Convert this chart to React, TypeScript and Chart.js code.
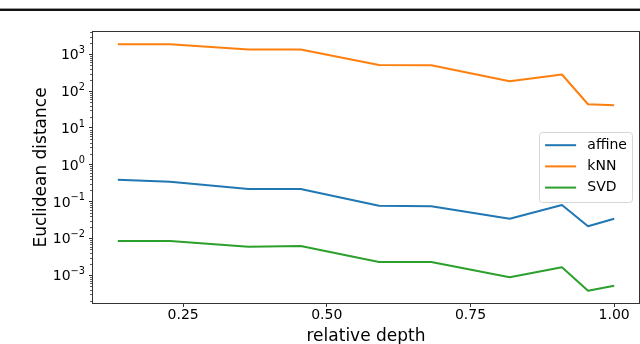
import React, { useEffect, useRef } from "react";
import { Chart, registerables } from "chart.js";

Chart.register(...registerables);

// ---- data ----
const relativeDepth = [0.1364, 0.2273, 0.3636, 0.4545, 0.5909, 0.6818, 0.8182, 0.9091, 0.9545, 1.0];
const affine = [0.391, 0.345, 0.219, 0.219, 0.0771, 0.0742, 0.0342, 0.0805, 0.0213, 0.0342];
const kNN = [1866, 1866, 1341, 1341, 513, 503, 185, 282, 44, 41];
const SVD = [0.00851, 0.00851, 0.00596, 0.00622, 0.00229, 0.00229, 0.00088, 0.00164, 0.00038, 0.00052];
const seriesLabels = ["affine", "kNN", "SVD"];
const seriesColors = ["#1f77b4", "#ff7f0e", "#2ca02c"];
const xTicks = [0.25, 0.5, 0.75, 1.0];
const yTickExponents = [-3, -2, -1, 0, 1, 2, 3];
const xTitle = "relative depth";
const yTitle = "Euclidean distance";

const FONT = "'DejaVu Sans', sans-serif";
const expText = (e: number) => (e < 0 ? "\u2212" + String(-e) : String(e));

export default function App() {
  const canvasRef = useRef<HTMLCanvasElement | null>(null);

  useEffect(() => {
    const canvas = canvasRef.current;
    if (!canvas) return;
    const series = [affine, kNN, SVD];

    // matplotlib-like 5% margins
    const xLo = Math.min(...relativeDepth);
    const xHi = Math.max(...relativeDepth);
    const xPad = (xHi - xLo) * 0.05;
    const logs = series.flat().map((v) => Math.log10(v));
    const lLo = Math.min(...logs);
    const lHi = Math.max(...logs);
    const lPad = (lHi - lLo) * 0.05;
    const yMin = Math.pow(10, lLo - lPad);
    const yMax = Math.pow(10, lHi + lPad);

    const framePlugin = {
      id: "frameAndLegend",
      afterDraw(chart: any) {
        const ctx = chart.ctx;
        const { left, right, top, bottom } = chart.chartArea;
        const ys = chart.scales.y;
        ctx.save();
        // minor log ticks
        ctx.strokeStyle = "#333";
        ctx.lineWidth = 0.8;
        for (let n = Math.floor(lLo - lPad); n <= Math.ceil(lHi + lPad); n++) {
          for (let k = 2; k <= 9; k++) {
            const v = k * Math.pow(10, n);
            if (v < yMin || v > yMax) continue;
            const py = Math.round(ys.getPixelForValue(v)) + 0.5;
            ctx.beginPath();
            ctx.moveTo(left - 3, py);
            ctx.lineTo(left, py);
            ctx.stroke();
          }
        }
        // y tick labels, mathtext-like 10^e
        ctx.fillStyle = "#000";
        ctx.textAlign = "left";
        ctx.textBaseline = "alphabetic";
        yTickExponents.forEach((e) => {
          const py = ys.getPixelForValue(Math.pow(10, e));
          const sup = expText(e);
          ctx.font = `9.8px ${FONT}`;
          const ws = ctx.measureText(sup).width;
          ctx.font = `14px ${FONT}`;
          const wb = ctx.measureText("10").width;
          const xr = left - 8;
          const base = py + 5.1;
          ctx.fillText("10", xr - ws - wb, base);
          ctx.font = `9.8px ${FONT}`;
          ctx.fillText(sup, xr - ws, base - 6.5);
        });
        // spines
        ctx.strokeStyle = "#333";
        ctx.lineWidth = 1;
        ctx.strokeRect(left - 0.5, top - 0.5, right - left + 1, bottom - top + 1);

        // legend (center right)
        ctx.font = `14px ${FONT}`;
        const labels = chart.data.datasets.map((d: any) => d.label);
        const maxW = Math.max(...labels.map((l: string) => ctx.measureText(l).width));
        const pad = 5.6;
        const handle = 31;
        const gap = 11.2;
        const rowH = 21.2;
        const boxW = pad + handle + gap + maxW + pad;
        const boxH = 70;
        const bx = right - 6.5 - boxW;
        const by = (top + bottom) / 2 - boxH / 2;
        const r = 3;
        ctx.beginPath();
        ctx.moveTo(bx + r, by);
        ctx.lineTo(bx + boxW - r, by);
        ctx.arcTo(bx + boxW, by, bx + boxW, by + r, r);
        ctx.lineTo(bx + boxW, by + boxH - r);
        ctx.arcTo(bx + boxW, by + boxH, bx + boxW - r, by + boxH, r);
        ctx.lineTo(bx + r, by + boxH);
        ctx.arcTo(bx, by + boxH, bx, by + boxH - r, r);
        ctx.lineTo(bx, by + r);
        ctx.arcTo(bx, by, bx + r, by, r);
        ctx.closePath();
        ctx.fillStyle = "rgba(255,255,255,0.8)";
        ctx.fill();
        ctx.strokeStyle = "#d6d6d6";
        ctx.lineWidth = 1;
        ctx.stroke();
        chart.data.datasets.forEach((d: any, i: number) => {
          const cy = by + 12.7 + i * rowH;
          ctx.strokeStyle = d.borderColor;
          ctx.lineWidth = 2;
          ctx.beginPath();
          ctx.moveTo(bx + pad, cy);
          ctx.lineTo(bx + pad + handle, cy);
          ctx.stroke();
          ctx.fillStyle = "#000";
          ctx.textBaseline = "middle";
          ctx.textAlign = "left";
          ctx.fillText(d.label, bx + pad + handle + gap, cy);
        });
        ctx.restore();
      },
    };

    const chart = new Chart(canvas, {
      type: "line",
      data: {
        datasets: series.map((s, i) => ({
          label: seriesLabels[i],
          data: relativeDepth.map((x, j) => ({ x, y: s[j] })),
          borderColor: seriesColors[i],
          backgroundColor: seriesColors[i],
          borderWidth: 2,
          pointRadius: 0,
          tension: 0,
          borderJoinStyle: "round",
          fill: false,
        })),
      },
      options: {
        animation: false,
        responsive: false,
        maintainAspectRatio: false,
        layout: { padding: { top: 32, right: 1, left: 0, bottom: 0 } },
        plugins: { legend: { display: false }, tooltip: { enabled: false } },
        scales: {
          x: {
            type: "linear",
            min: xLo - xPad,
            max: xHi + xPad,
            afterBuildTicks: (s: any) => {
              s.ticks = xTicks.map((v) => ({ value: v }));
            },
            afterFit: (s: any) => {
              s.height = 45;
            },
            ticks: {
              callback: (v: any) => Number(v).toFixed(2),
              font: { family: FONT, size: 14 },
              color: "#000",
              padding: 0,
              maxRotation: 0,
              autoSkip: false,
            },
            grid: {
              display: true,
              drawOnChartArea: false,
              drawTicks: true,
              tickLength: 4,
              color: "#333",
              tickColor: "#333",
              lineWidth: 1,
            },
            border: { display: false },
            title: {
              display: true,
              text: xTitle,
              font: { family: FONT, size: 17 },
              color: "#000",
              padding: { top: 0, bottom: 1 },
            },
          },
          y: {
            type: "logarithmic",
            min: yMin,
            max: yMax,
            afterBuildTicks: (s: any) => {
              s.ticks = yTickExponents.map((e) => ({ value: Math.pow(10, e) }));
            },
            afterFit: (s: any) => {
              s.width = 93;
            },
            ticks: {
              display: false,
              autoSkip: false,
            },
            grid: {
              display: true,
              drawOnChartArea: false,
              drawTicks: true,
              tickLength: 4,
              color: "#333",
              tickColor: "#333",
              lineWidth: 1,
            },
            border: { display: false },
            title: {
              display: true,
              text: yTitle,
              font: { family: FONT, size: 17 },
              color: "#000",
              padding: { top: 31, bottom: 0 },
            },
          },
        },
      },
      plugins: [framePlugin],
    } as any);

    return () => chart.destroy();
  }, []);

  return (
    <div
      style={{
        position: "fixed",
        left: 0,
        top: 0,
        width: 640,
        height: 344,
        overflow: "hidden",
        background: "#fff",
      }}
    >
      <div style={{ position: "absolute", left: 0, top: 8, width: 640, height: 1, background: "#999" }} />
      <div style={{ position: "absolute", left: 0, top: 9, width: 640, height: 2, background: "#111" }} />
      <canvas
        ref={canvasRef}
        width={640}
        height={348}
        style={{ position: "absolute", left: 0, top: 0, width: 640, height: 348 }}
      />
    </div>
  );
}
